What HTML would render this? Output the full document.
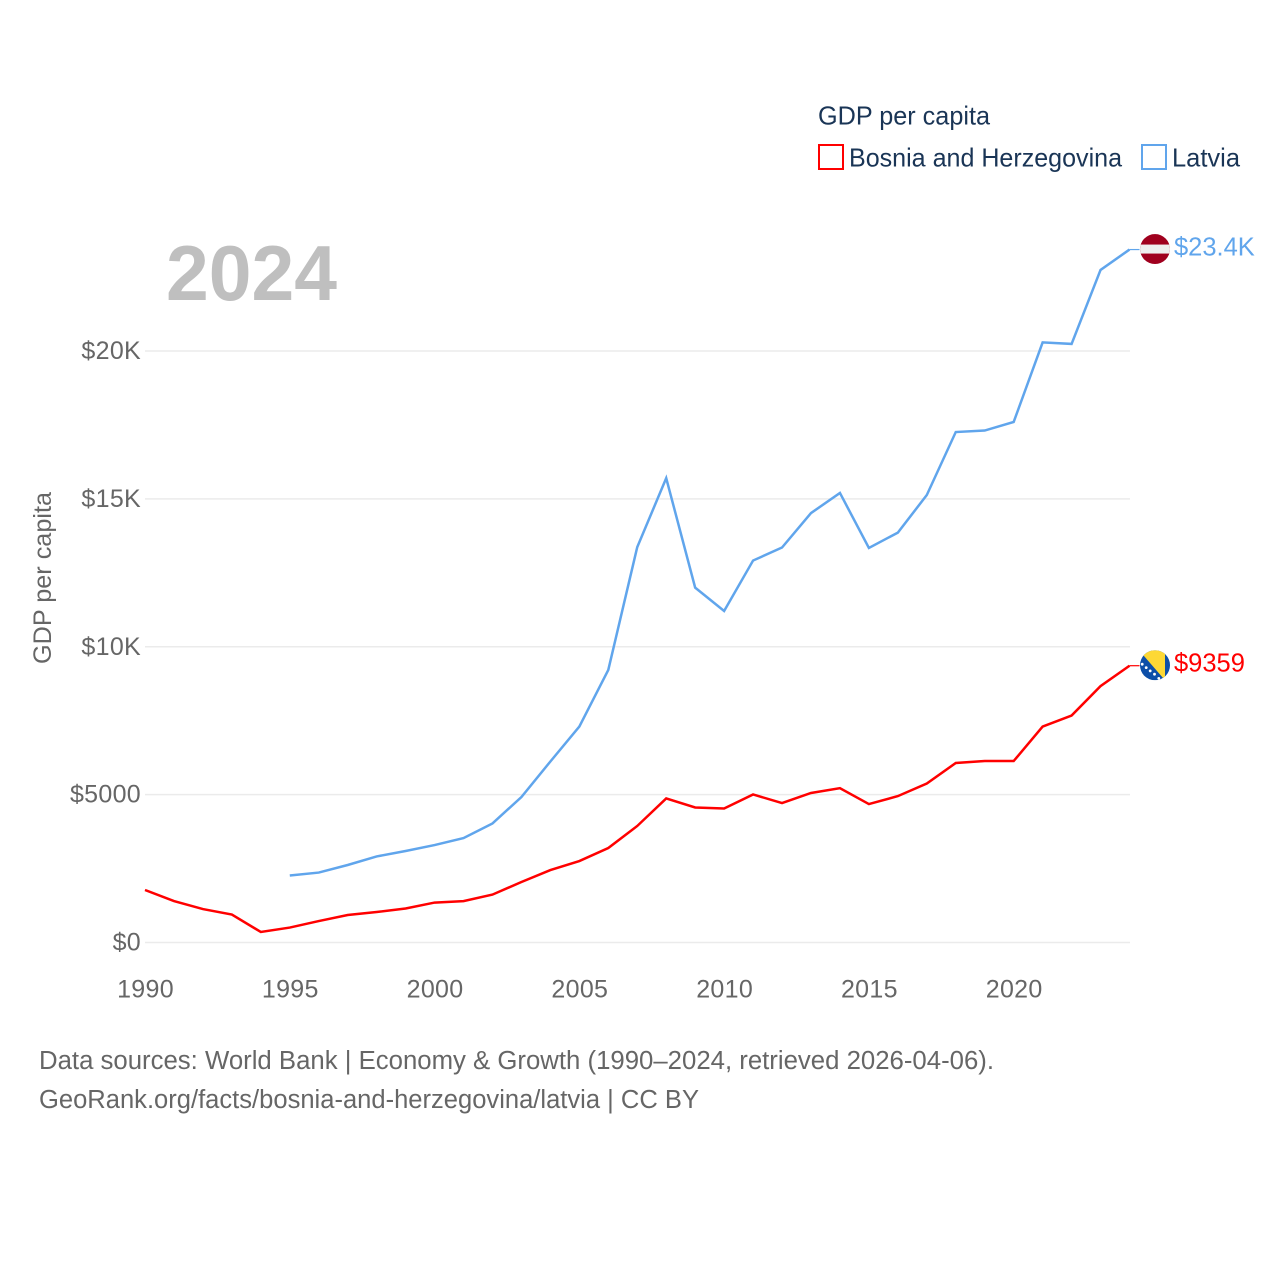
<!DOCTYPE html>
<html>
<head>
<meta charset="utf-8">
<style>
html,body{margin:0;padding:0;background:#fff;}
svg{display:block;}
text{font-family:"Liberation Sans",sans-serif;}
</style>
</head>
<body>
<svg id="chart" width="1280" height="1280" viewBox="0 0 1280 1280" xmlns="http://www.w3.org/2000/svg">
  <rect x="0" y="0" width="1280" height="1280" fill="#ffffff"/>
  <g id="grid"></g>
  <g id="yticks"></g>
  <g id="xticks"></g>
  <text x="166" y="300" font-size="78" font-weight="bold" fill="#bfbfbf" textLength="171" lengthAdjust="spacingAndGlyphs">2024</text>
  <text transform="translate(51,578) rotate(-90)" text-anchor="middle" font-size="25" fill="#666666" textLength="172" lengthAdjust="spacingAndGlyphs">GDP per capita</text>

  <g id="series"></g>

  <g id="flag-latvia">
    <clipPath id="clip-lv"><circle cx="0" cy="0" r="15"/></clipPath>
    <g clip-path="url(#clip-lv)">
      <rect x="-15" y="-15" width="30" height="30" fill="#a0001e"/>
      <rect x="-15" y="-4.5" width="30" height="9" fill="#eeeeee"/>
    </g>
  </g>
  <g id="flag-bosnia">
    <clipPath id="clip-ba"><circle cx="0" cy="0" r="15"/></clipPath>
    <g clip-path="url(#clip-ba)">
      <rect x="-15" y="-15" width="30" height="30" fill="#0d4fa8"/>
      <polygon points="-16,-15 10,-15 10,15" fill="#fdd835"/>
      <circle cx="-12.8" cy="-1" r="1.4" fill="#fff"/>
      <circle cx="-8.8" cy="2.4" r="1.4" fill="#fff"/>
      <circle cx="-4.8" cy="5.7" r="1.4" fill="#fff"/>
      <circle cx="-0.5" cy="9" r="1.4" fill="#fff"/>
      <circle cx="3.8" cy="13.2" r="1.4" fill="#fff"/>
    </g>
  </g>
  <g id="value-labels"></g>

  <g>
    <text x="818" y="124.5" font-size="26" fill="#1a3556" textLength="172" lengthAdjust="spacingAndGlyphs">GDP per capita</text>
    <g>
      <rect x="819" y="145" width="24" height="24" fill="#ffffff" stroke="#ff0000" stroke-width="2"/>
      <text x="849" y="166.5" font-size="26" fill="#1a3556" textLength="273" lengthAdjust="spacingAndGlyphs">Bosnia and Herzegovina</text>
    </g>
    <g>
      <rect x="1142" y="145" width="24" height="24" fill="#ffffff" stroke="#60a5ec" stroke-width="2"/>
      <text x="1172" y="166.5" font-size="26" fill="#1a3556" textLength="68" lengthAdjust="spacingAndGlyphs">Latvia</text>
    </g>
  </g>

  <text x="39" y="1069" font-size="25.5" fill="#666666" textLength="955" lengthAdjust="spacingAndGlyphs">Data sources: World Bank | Economy &amp; Growth (1990–2024, retrieved 2026-04-06).</text>
  <text x="39" y="1108" font-size="25.5" fill="#666666" textLength="660" lengthAdjust="spacingAndGlyphs">GeoRank.org/facts/bosnia-and-herzegovina/latvia | CC BY</text>
</svg>
<script>
const years = [1990,1991,1992,1993,1994,1995,1996,1997,1998,1999,2000,2001,2002,2003,2004,2005,2006,2007,2008,2009,2010,2011,2012,2013,2014,2015,2016,2017,2018,2019,2020,2021,2022,2023,2024];
const bosniaValues = [1775,1400,1130,945,355,505,725,930,1030,1150,1350,1400,1620,2045,2450,2755,3195,3940,4870,4565,4530,5005,4715,5055,5220,4680,4950,5375,6070,6135,6135,7300,7675,8670,9359];
const latviaValues = [null,null,null,null,null,2265,2365,2620,2910,3095,3295,3530,4025,4920,6120,7300,9215,13370,15700,12000,11210,12915,13355,14520,15200,13340,13860,15130,17260,17310,17600,20290,20240,22740,23430];
const yTickValues = [0,5000,10000,15000,20000];
const yTickLabels = ["$0","$5000","$10K","$15K","$20K"];
const xTickValues = [1990,1995,2000,2005,2010,2015,2020];

const SVGNS = "http://www.w3.org/2000/svg";
function xScale(year){ return 145 + (year - 1990) * (1129.5 - 145) / 34; }
function yScale(value){ return 942.5 - value * (942.5 - 351) / 20000; }
function make(tag, attrs, parent){
  const el = document.createElementNS(SVGNS, tag);
  for (const k in attrs) el.setAttribute(k, attrs[k]);
  parent.appendChild(el);
  return el;
}
function formatValue(v){
  return v >= 10000 ? "$" + (v / 1000).toFixed(1) + "K" : "$" + Math.round(v);
}

const grid = document.getElementById("grid");
const yticks = document.getElementById("yticks");
const xticks = document.getElementById("xticks");
const series = document.getElementById("series");
const valueLabels = document.getElementById("value-labels");

yTickValues.forEach(function(v, i){
  const line = make("line", {x1:145, x2:1130, y1:yScale(v), y2:yScale(v), stroke:"#ebebeb", "stroke-width":1.4}, grid);
  
  
  const t = make("text", {x:141, y:yScale(v) + 8, "text-anchor":"end", "font-size":25, fill:"#666666", "letter-spacing":0.3}, yticks);
  
  
  t.textContent = yTickLabels[i];
});

xTickValues.forEach(function(y){
  const t = make("text", {x:xScale(y) + 0.5, y:997.5, "text-anchor":"middle", "font-size":25, fill:"#666666", "letter-spacing":0.3}, xticks);
  
  
  t.textContent = y;
});

function drawSeries(values, color, flagId){
  let d = "", lastX = 0, lastY = 0, lastV = 0;
  values.forEach(function(v, i){
    if (v === null) return;
    lastX = xScale(years[i]);
    lastY = yScale(v);
    lastV = v;
    d += (d ? "L" : "M") + lastX.toFixed(2) + " " + lastY.toFixed(2);
  });
  const leader = make("line", {x1:lastX, x2:lastX + 10, y1:lastY, y2:lastY, stroke:color, "stroke-width":1.2}, series);
  
  
  const path = make("path", {d:d, fill:"none", stroke:color, "stroke-width":2.5, "stroke-linejoin":"miter"}, series);
  
  
  document.getElementById(flagId).setAttribute("transform", "translate(1155," + (lastY - 0.5).toFixed(2) + ")");
  const label = make("text", {x:1174, y:lastY + 6, "font-size":25.5, fill:color}, valueLabels);
  
  
  label.textContent = formatValue(lastV);
}
drawSeries(latviaValues, "#60a5ec", "flag-latvia");
drawSeries(bosniaValues, "#ff0000", "flag-bosnia");
</script>
</body>
</html>
